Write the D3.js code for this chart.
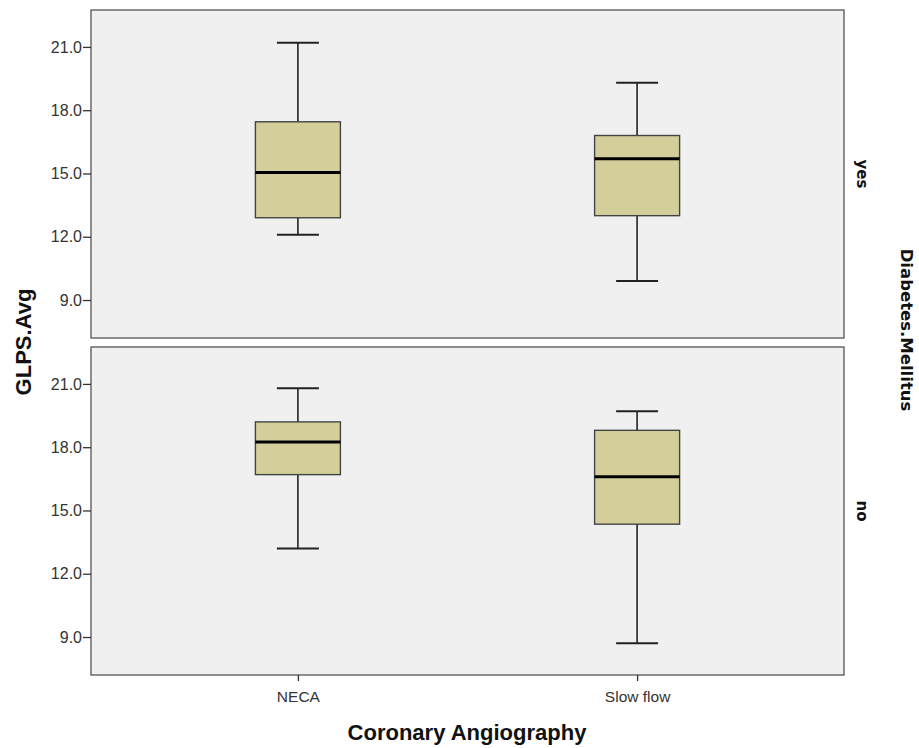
<!DOCTYPE html>
<html><head><meta charset="utf-8">
<script src="https://cdn.jsdelivr.net/npm/d3@7"></script>
<style>body{margin:0;background:#fff}</style>
</head><body>
<script>
const categories = ["NECA", "Slow flow"];
const panels = ["yes", "no"];
// [whiskerLow, Q1, median, Q3, whiskerHigh]
const yesStats = [[12.1, 12.9, 15.05, 17.45, 21.2], [9.9, 13.0, 15.7, 16.8, 19.3]];
const noStats  = [[13.2, 16.7, 18.25, 19.2, 20.8], [8.7, 14.35, 16.6, 18.8, 19.7]];
const yTicks = [9, 12, 15, 18, 21];
const panelStats = [yesStats, noStats];

const W = 919, H = 748;
const svg = d3.select("body").append("svg").attr("width", W).attr("height", H);
const left = 91, right = 844;
const panelTops = [10, 347], panelH = 328;

const x = d3.scalePoint().domain(categories).range([left, right]).padding(0.61);
const boxW = 85, capW = 42;

panels.forEach((p, i) => {
  const top = panelTops[i];
  const y = d3.scaleLinear().domain([7.2, 22.75]).range([top + panelH, top]);
  const g = svg.append("g");
  g.append("rect").attr("x", left).attr("y", top).attr("width", right - left).attr("height", panelH)
    .attr("fill", "#f0f0f0").attr("stroke", "#555").attr("stroke-width", 1.3);
  const ax = g.append("g").attr("transform", `translate(${left},0)`)
    .call(d3.axisLeft(y).tickValues(yTicks).tickSize(8).tickPadding(1).tickFormat(d3.format(".1f")));
  ax.select(".domain").remove();
  ax.selectAll("line").attr("stroke", "#333").attr("stroke-width", 1.3);
  ax.selectAll("text").attr("font-family", "Liberation Sans, Arial, sans-serif").attr("font-size", 16).attr("fill", "#333");

  categories.forEach((c, j) => {
    const s = panelStats[i][j];
    const cx = x(c);
    const bg = g.append("g");
    bg.append("line").attr("x1", cx).attr("x2", cx).attr("y1", y(s[0])).attr("y2", y(s[4]))
      .attr("stroke", "#222").attr("stroke-width", 1.6);
    [s[0], s[4]].forEach(v => bg.append("line").attr("x1", cx - capW / 2).attr("x2", cx + capW / 2)
      .attr("y1", y(v)).attr("y2", y(v)).attr("stroke", "#222").attr("stroke-width", 2));
    bg.append("rect").attr("x", cx - boxW / 2).attr("width", boxW).attr("y", y(s[3])).attr("height", y(s[1]) - y(s[3]))
      .attr("fill", "#d4cf9a").attr("stroke", "#444").attr("stroke-width", 1.4);
    bg.append("line").attr("x1", cx - boxW / 2).attr("x2", cx + boxW / 2).attr("y1", y(s[2])).attr("y2", y(s[2]))
      .attr("stroke", "#000").attr("stroke-width", 3);
  });

  g.append("text").attr("transform", `translate(857,${top + panelH / 2}) rotate(90)`)
    .attr("text-anchor", "middle").attr("font-family", "DejaVu Sans, sans-serif").attr("font-weight", "bold")
    .attr("font-size", 15).attr("fill", "#111").text(p);
});

const xa = svg.append("g").attr("transform", `translate(0,${panelTops[1] + panelH})`)
  .call(d3.axisBottom(x).tickSize(6).tickPadding(10));
xa.select(".domain").remove();
xa.selectAll("line").attr("stroke", "#333").attr("stroke-width", 1.3);
xa.selectAll("text").attr("font-family", "Liberation Sans, Arial, sans-serif").attr("font-size", 15.5).attr("fill", "#333");

svg.append("text").attr("x", 467).attr("y", 740).attr("text-anchor", "middle")
  .attr("font-family", "Liberation Sans, Arial, sans-serif").attr("font-weight", "bold").attr("font-size", 22)
  .attr("fill", "#111").text("Coronary Angiography");
svg.append("text").attr("transform", `translate(31,342) rotate(-90)`).attr("text-anchor", "middle")
  .attr("font-family", "Liberation Sans, Arial, sans-serif").attr("font-weight", "bold").attr("font-size", 22)
  .attr("fill", "#111").text("GLPS.Avg");
svg.append("text").attr("transform", `translate(901,330) rotate(90)`).attr("text-anchor", "middle")
  .attr("font-family", "DejaVu Sans, sans-serif").attr("font-weight", "bold").attr("font-size", 16.5)
  .attr("fill", "#111").text("Diabetes.Mellitus");
</script>
</body></html>
